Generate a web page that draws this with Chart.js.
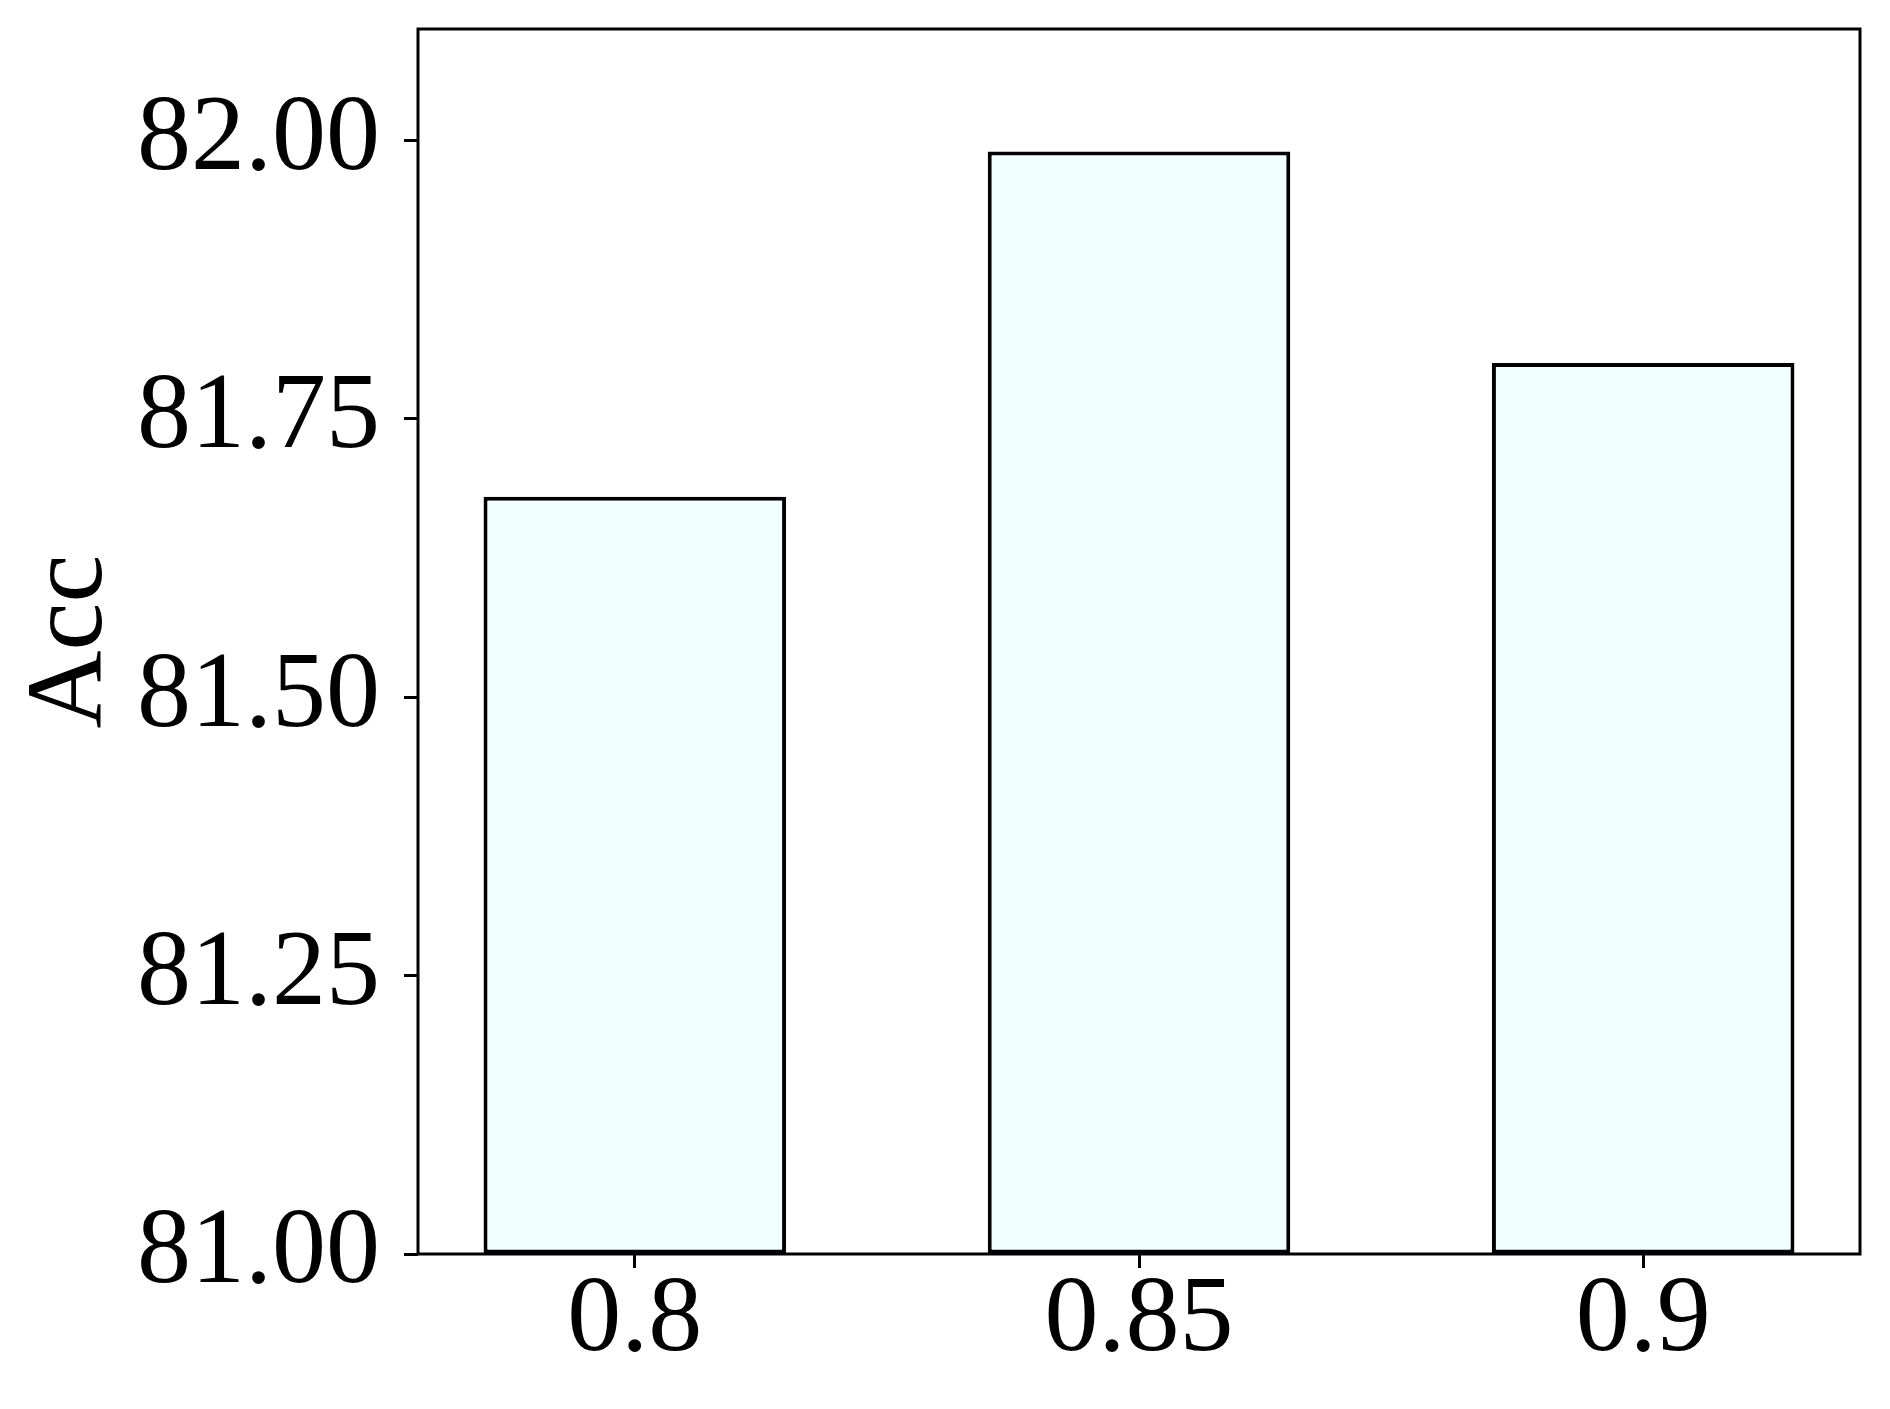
<!DOCTYPE html>
<html>
<head>
<meta charset="utf-8">
<script src="https://cdn.jsdelivr.net/npm/chart.js@4.4.1/dist/chart.umd.min.js"></script>
<style>
  html, body { margin: 0; padding: 0; background: #fff; }
  #wrap { width: 1890px; height: 1409px; }
</style>
</head>
<body>
<div id="wrap"><canvas id="chart" width="1890" height="1409"></canvas></div>
<script>
const categories = ["0.8", "0.85", "0.9"];
const accValues = [81.68, 81.99, 81.80];
const yTicks = [81.0, 81.25, 81.5, 81.75, 82.0];
const yTickLabels = ["81.00", "81.25", "81.50", "81.75", "82.00"];
const yMin = 81.0;
const yMax = 82.1;

const serif = "'Liberation Serif', 'Times New Roman', serif";

// box around the plot area, like matplotlib spines
const frame = {
  id: "frame",
  afterDatasetsDraw(chart) {
    const { ctx, chartArea: a } = chart;
    ctx.save();
    ctx.strokeStyle = "#000";
    ctx.lineWidth = 3;
    ctx.strokeRect(a.left, a.top, a.right - a.left, a.bottom - a.top);
    ctx.restore();
  },
};

new Chart(document.getElementById("chart"), {
  type: "bar",
  data: {
    datasets: [
      {
        label: "Acc",
        data: accValues.map((v, i) => ({ x: i, y: v })),
        base: yMin,
        backgroundColor: "#F0FFFF",
        borderColor: "#000",
        borderWidth: 4,
        borderSkipped: false,
        barPercentage: 0.6,
        categoryPercentage: 1.0,
      },
    ],
  },
  options: {
    responsive: false,
    animation: false,
    layout: { padding: { left: 0, right: 30, top: 29, bottom: 0 } },
    plugins: {
      legend: { display: false },
      tooltip: { enabled: false },
    },
    scales: {
      x: {
        type: "linear",
        min: -0.43,
        max: 2.43,
        offset: false,
        border: { display: false },
        grid: {
          display: true,
          offset: false,
          drawOnChartArea: false,
          drawTicks: true,
          tickLength: 14,
          tickWidth: 3,
          tickColor: "#000",
        },
        ticks: {
          color: "#000",
          padding: 0,
          maxRotation: 0,
          font: { family: serif, size: 108, lineHeight: 1 },
          callback: (v) => categories[v],
        },
        afterBuildTicks: (scale) => {
          scale.ticks = categories.map((c, i) => ({ value: i }));
        },
        afterFit: (scale) => {
          scale.height = 155;
          scale.paddingLeft = 0;
          scale.paddingRight = 0;
        },
      },
      y: {
        min: yMin,
        max: yMax,
        border: { display: false },
        grid: {
          display: true,
          drawOnChartArea: false,
          drawTicks: true,
          tickLength: 14,
          tickWidth: 3,
          tickColor: "#000",
        },
        ticks: {
          color: "#000",
          padding: 24,
          font: { family: serif, size: 108, lineHeight: 1 },
          callback: (v) => {
            const i = yTicks.findIndex((t) => Math.abs(t - v) < 1e-6);
            return i >= 0 ? yTickLabels[i] : "";
          },
        },
        afterBuildTicks: (scale) => {
          scale.ticks = yTicks.map((t) => ({ value: t }));
        },
        title: {
          display: true,
          text: "Acc",
          color: "#000",
          font: { family: serif, size: 108, lineHeight: 1 },
          padding: { top: 19, bottom: 0 },
        },
        afterFit: (scale) => {
          scale.width = 418;
          scale.paddingTop = 0;
          scale.paddingBottom = 0;
        },
      },
    },
  },
  plugins: [frame],
});
</script>
</body>
</html>
